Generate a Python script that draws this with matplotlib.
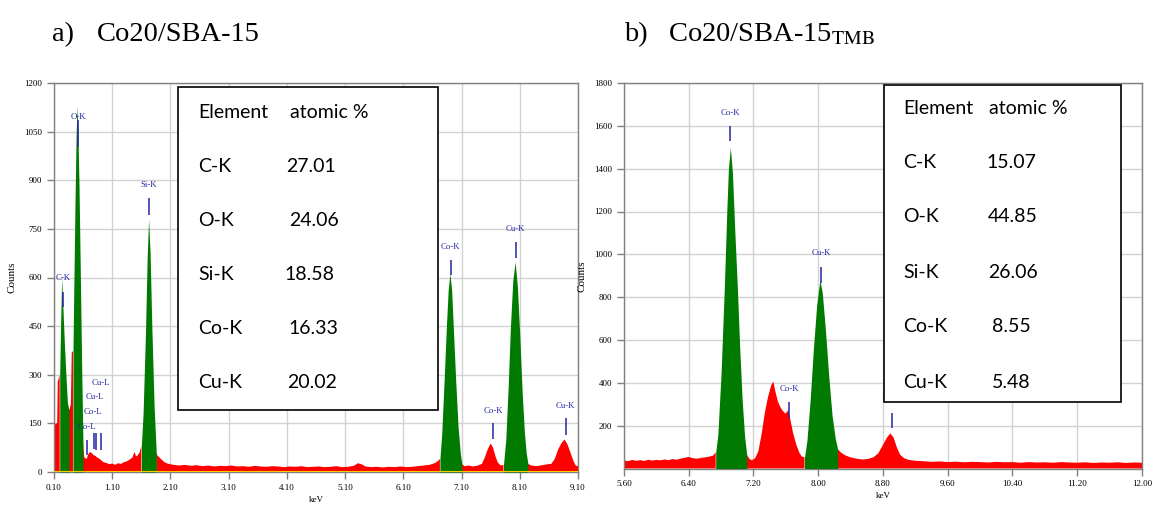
import numpy as np
import matplotlib.pyplot as plt
from matplotlib.patches import Rectangle

plt.rcParams['font.family'] = ['Liberation Serif', 'DejaVu Serif']
plt.rcParams['mathtext.fontset'] = 'stix'

# ---- spectrum a) Co20/SBA-15 : energy (keV) / counts ----
kev_a = [0.10, 0.13, 0.155, 0.165, 0.186, 0.198, 0.215, 0.232, 0.25, 0.28, 0.31, 0.33, 0.357,
         0.37, 0.39, 0.405, 0.426, 0.44, 0.46, 0.48, 0.495, 0.51, 0.53, 0.55, 0.575, 0.597,
         0.62, 0.66, 0.69, 0.72, 0.75, 0.78, 0.81, 0.84, 0.87, 0.90, 0.95, 1.00, 1.05,
         1.10, 1.15, 1.20, 1.25, 1.30, 1.35, 1.40, 1.45, 1.48, 1.51, 1.54, 1.57, 1.60,
         1.63, 1.67, 1.70, 1.724, 1.75, 1.78, 1.82, 1.856,
         1.88, 1.91, 1.95, 2.00, 2.05, 2.15, 2.25, 2.35, 2.45, 2.55, 2.65, 2.75, 2.85,
         2.95, 3.05, 3.15, 3.25, 3.35, 3.45, 3.55, 3.65, 3.75, 3.85, 3.95, 4.05, 4.15,
         4.25, 4.35, 4.45, 4.55, 4.65, 4.75, 4.85, 4.95, 5.05, 5.15, 5.25, 5.32, 5.38,
         5.45, 5.55, 5.65, 5.75, 5.85, 5.95, 6.05, 6.15, 6.25, 6.35, 6.45, 6.55, 6.65,
         6.70, 6.728, 6.76, 6.80, 6.84, 6.87, 6.90, 6.93, 6.96, 7.00, 7.04, 7.08, 7.105,
         7.15, 7.22, 7.30, 7.38, 7.45, 7.50, 7.55, 7.60, 7.64, 7.68, 7.72, 7.77, 7.82,
         7.86, 7.90, 7.94, 7.98, 8.02, 8.06, 8.10, 8.14, 8.18, 8.21, 8.24,
         8.30, 8.38, 8.45, 8.52, 8.58, 8.64, 8.70, 8.76, 8.82, 8.87, 8.92, 8.97, 9.02,
         9.06, 9.10]
counts_a = [140, 150, 150, 280, 290, 300, 470, 598, 520, 390, 280, 215, 190,
            195, 210, 370, 372, 560, 820, 1040, 1128, 1060, 880, 640, 330, 90,
            45, 40, 55, 62, 58, 52, 50, 45, 42, 38, 30, 28, 24,
            26, 22, 27, 25, 30, 33, 38, 45, 62, 48, 52, 60, 80,
            180, 420, 660, 780, 680, 450, 200, 60,
            50, 45, 38, 30, 26, 22, 20, 22, 19, 21, 18, 20, 17,
            19, 18, 20, 17, 18, 16, 19, 17, 16, 18, 17, 15, 17,
            16, 18, 15, 16, 17, 15, 16, 18, 15, 16, 19, 27, 24,
            17, 15, 16, 14, 16, 15, 17, 15, 16, 18, 20, 22, 28,
            35, 40, 120, 280, 450, 560, 613, 560, 440, 280, 140, 55, 25,
            18, 20, 17, 20, 25, 45, 70, 88, 75, 50, 30, 20, 22,
            100, 260, 450, 590, 649, 570, 420, 250, 120, 60, 25,
            20, 18, 20, 22, 24, 25, 40, 70, 90, 100, 85, 60, 35,
            20, 18]
green_a = [(0.198, 0.357), (0.426, 0.597), (1.60, 1.856), (6.728, 7.105), (7.82, 8.24)]

# peak markers a): energy, line bottom, line top, label position (counts)
mark_name_a = ['C-K', 'O-K', 'Si-K', 'Co-L', 'Co-L', 'Cu-L', 'Cu-L', 'Co-K', 'Co-K', 'Cu-K', 'Cu-K']
mark_kev_a = [0.254, 0.519, 1.724, 0.661, 0.786, 0.815, 0.913, 6.916, 7.642, 8.031, 8.889]
mark_lo_a = [510, 1004, 792, 51, 72, 67, 69, 607, 101, 659, 113]
mark_hi_a = [556, 1086, 845, 98, 119, 119, 119, 653, 150, 711, 166]
label_kev_a = [0.26, 0.52, 1.724, 0.67, 0.77, 0.80, 0.913, 6.916, 7.642, 8.031, 8.889]
label_y_a = [598, 1095, 886, 140, 185, 231, 276, 695, 188, 750, 203]

# ---- spectrum b) Co20/SBA-15 TMB ----
kev_b = [5.60, 5.65, 5.70, 5.75, 5.80, 5.85, 5.90, 5.95, 6.00, 6.05, 6.10, 6.15, 6.20,
         6.25, 6.30, 6.35, 6.40, 6.45, 6.50, 6.55, 6.60, 6.65, 6.70, 6.733,
         6.76, 6.80, 6.84, 6.87, 6.89, 6.914, 6.94, 6.97, 7.00, 7.03, 7.06, 7.09, 7.116,
         7.15, 7.18, 7.22, 7.26, 7.30, 7.34, 7.38, 7.42, 7.446, 7.47, 7.50, 7.53, 7.56,
         7.59, 7.61, 7.63, 7.66, 7.69, 7.73, 7.77, 7.80, 7.83,
         7.86, 7.90, 7.94, 7.98, 8.02, 8.05, 8.09, 8.13, 8.17, 8.21, 8.24,
         8.28, 8.33, 8.40, 8.47, 8.55, 8.62, 8.68, 8.74, 8.80, 8.85, 8.89, 8.93, 8.97,
         9.01, 9.06, 9.12, 9.20, 9.30, 9.40, 9.50, 9.60, 9.70, 9.80, 9.90, 10.0, 10.1,
         10.2, 10.3, 10.4, 10.5, 10.6, 10.7, 10.8, 10.9, 11.0, 11.1, 11.2, 11.3, 11.4,
         11.5, 11.6, 11.7, 11.8, 11.9, 12.0]
counts_b = [38, 34, 40, 36, 39, 35, 41, 37, 40, 38, 42, 39, 44,
            41, 46, 50, 54, 48, 46, 49, 52, 55, 60, 75,
            160, 450, 850, 1200, 1400, 1499, 1380, 1100, 850, 560, 320, 150, 65,
            45, 38, 48, 80, 160, 260, 335, 390, 405, 360, 315, 288, 270,
            257, 262, 273, 220, 164, 110, 71, 55, 52,
            130, 320, 560, 760, 880, 820, 640, 430, 250, 140, 90,
            75, 62, 52, 46, 42, 45, 52, 70, 110, 145, 164, 145, 100,
            65, 48, 40, 36, 34, 31, 33, 30, 32, 29, 31, 30, 28,
            31, 29, 30, 27, 30, 28, 29, 27, 30, 28, 27, 29, 26,
            28, 27, 29, 26, 28, 27]
green_b = [(6.733, 7.116), (7.83, 8.24)]

mark_name_b = ['Co-K', 'Co-K', 'Cu-K', 'Cu-K']
mark_kev_b = [6.914, 7.644, 8.04, 8.914]
mark_lo_b = [1530, 234, 867, 189]
mark_hi_b = [1600, 312, 942, 259]
label_kev_b = [6.914, 7.644, 8.04, 8.914]
label_y_b = [1662, 370, 1004, 329]

# ---- composition tables ----
elements = ['C-K', 'O-K', 'Si-K', 'Co-K', 'Cu-K']
atomic_a = ['27.01', '24.06', '18.58', '16.33', '20.02']
atomic_b = ['15.07', '44.85', '26.06', '8.55', '5.48']

W, H = 1155, 507
fig = plt.figure(figsize=(W / 100, H / 100), dpi=100)


def fx(x):
    return x / W


def fy(y):
    return 1 - y / H


RED = '#ff0000'
GREEN = '#007a00'
BLUE = '#2525a5'
GRID = '#d2d2d2'
FRAME = '#808080'


def draw_spectrum(ax, kev, counts, windows, names, mk, lo, hi, lk, ly):
    kev = np.array(kev)
    counts = np.array(counts)
    inside = np.zeros(len(kev), dtype=bool)
    for a, b in windows:
        inside |= (kev > a + 1e-9) & (kev < b - 1e-9)
    # background in red, identified peaks in green
    ax.fill_between(kev, counts, where=~inside, color=RED, lw=0, zorder=2)
    for a, b in windows:
        m = (kev >= a - 1e-9) & (kev <= b + 1e-9)
        ax.fill_between(kev[m], counts[m], color=GREEN, lw=0, zorder=3)
    ax.vlines(mk, lo, hi, color=BLUE, lw=1.1, zorder=4)
    for name, x, y in zip(names, lk, ly):
        ax.text(x, y, name, color=BLUE, fontsize=6.3, ha='center', va='center', zorder=4)
    ax.set_axisbelow(True)
    ax.grid(True, color=GRID, lw=1.0)
    for s in ax.spines.values():
        s.set_color(FRAME)
        s.set_linewidth(1.0)
    ax.tick_params(labelsize=6.5, length=5, width=1, color=FRAME, direction='out')
    ax.set_xlabel('keV', fontsize=6.5, labelpad=3)
    ax.set_ylabel('Counts', fontsize=8)


# left panel
ax1 = fig.add_axes([fx(54), fy(472), fx(578) - fx(54), fy(83) - fy(472)])
draw_spectrum(ax1, kev_a, counts_a, green_a, mark_name_a, mark_kev_a, mark_lo_a,
              mark_hi_a, label_kev_a, label_y_a)
ax1.axhline(0, color='#ffcc00', lw=1.5, zorder=5)
ax1.set_xlim(0.10, 9.10)
ax1.set_ylim(0, 1200)
xt_a = np.arange(0.10, 9.11, 1.0)
ax1.set_xticks(xt_a)
ax1.set_xticklabels(['%.2f' % v for v in xt_a])
ax1.set_yticks(np.arange(0, 1201, 150))
ax1.yaxis.set_label_coords(-0.072, 0.5)

# right panel
ax2 = fig.add_axes([fx(624), fy(468.5), fx(1142) - fx(624), fy(83) - fy(468.5)])
draw_spectrum(ax2, kev_b, counts_b, green_b, mark_name_b, mark_kev_b, mark_lo_b,
              mark_hi_b, label_kev_b, label_y_b)
ax2.set_xlim(5.60, 12.00)
ax2.set_ylim(0, 1800)
xt_b = np.arange(5.60, 12.01, 0.80)
ax2.set_xticks(xt_b)
ax2.set_xticklabels(['%.2f' % v for v in xt_b])
ax2.set_yticks(np.arange(200, 1801, 200))
ax2.yaxis.set_label_coords(-0.073, 0.5)

# panel titles
fig.text(fx(52), fy(41), 'a)', fontsize=20.5, va='baseline')
fig.text(fx(97), fy(41), 'Co20/SBA-15', fontsize=20.5, va='baseline')
fig.text(fx(624), fy(41), 'b)', fontsize=20.5, va='baseline')
fig.text(fx(668), fy(41), r'Co20/SBA-15$_{\mathrm{TMB}}$', fontsize=20.5, va='baseline')


def draw_table(x0, y0, x1, y1, col1, col2, rows_y, vals_x, values):
    fig.add_artist(Rectangle((fx(x0), fy(y1)), fx(x1) - fx(x0), fy(y0) - fy(y1),
                             transform=fig.transFigure, facecolor='white',
                             edgecolor='black', lw=1.2, zorder=10))
    kw = dict(fontsize=14, family=['Lato', 'DejaVu Sans'], va='center', zorder=11)
    fig.text(fx(col1), fy(rows_y[0]), 'Element', **kw)
    fig.text(fx(col2), fy(rows_y[0]), 'atomic %', **kw)
    for el, v, y, vx in zip(elements, values, rows_y[1:], vals_x):
        fig.text(fx(col1), fy(y), el, **kw)
        fig.text(fx(vx), fy(y), v, **kw)


draw_table(178, 87, 438, 410, 198, 290, [112, 167, 220, 275, 328, 383],
           [286, 289, 284, 288, 287], atomic_a)
draw_table(884, 85, 1121, 402, 903, 989, [109, 163, 217, 273, 326, 382],
           [986, 988, 988, 992, 992], atomic_b)

fig.savefig('out.png', dpi=100)
